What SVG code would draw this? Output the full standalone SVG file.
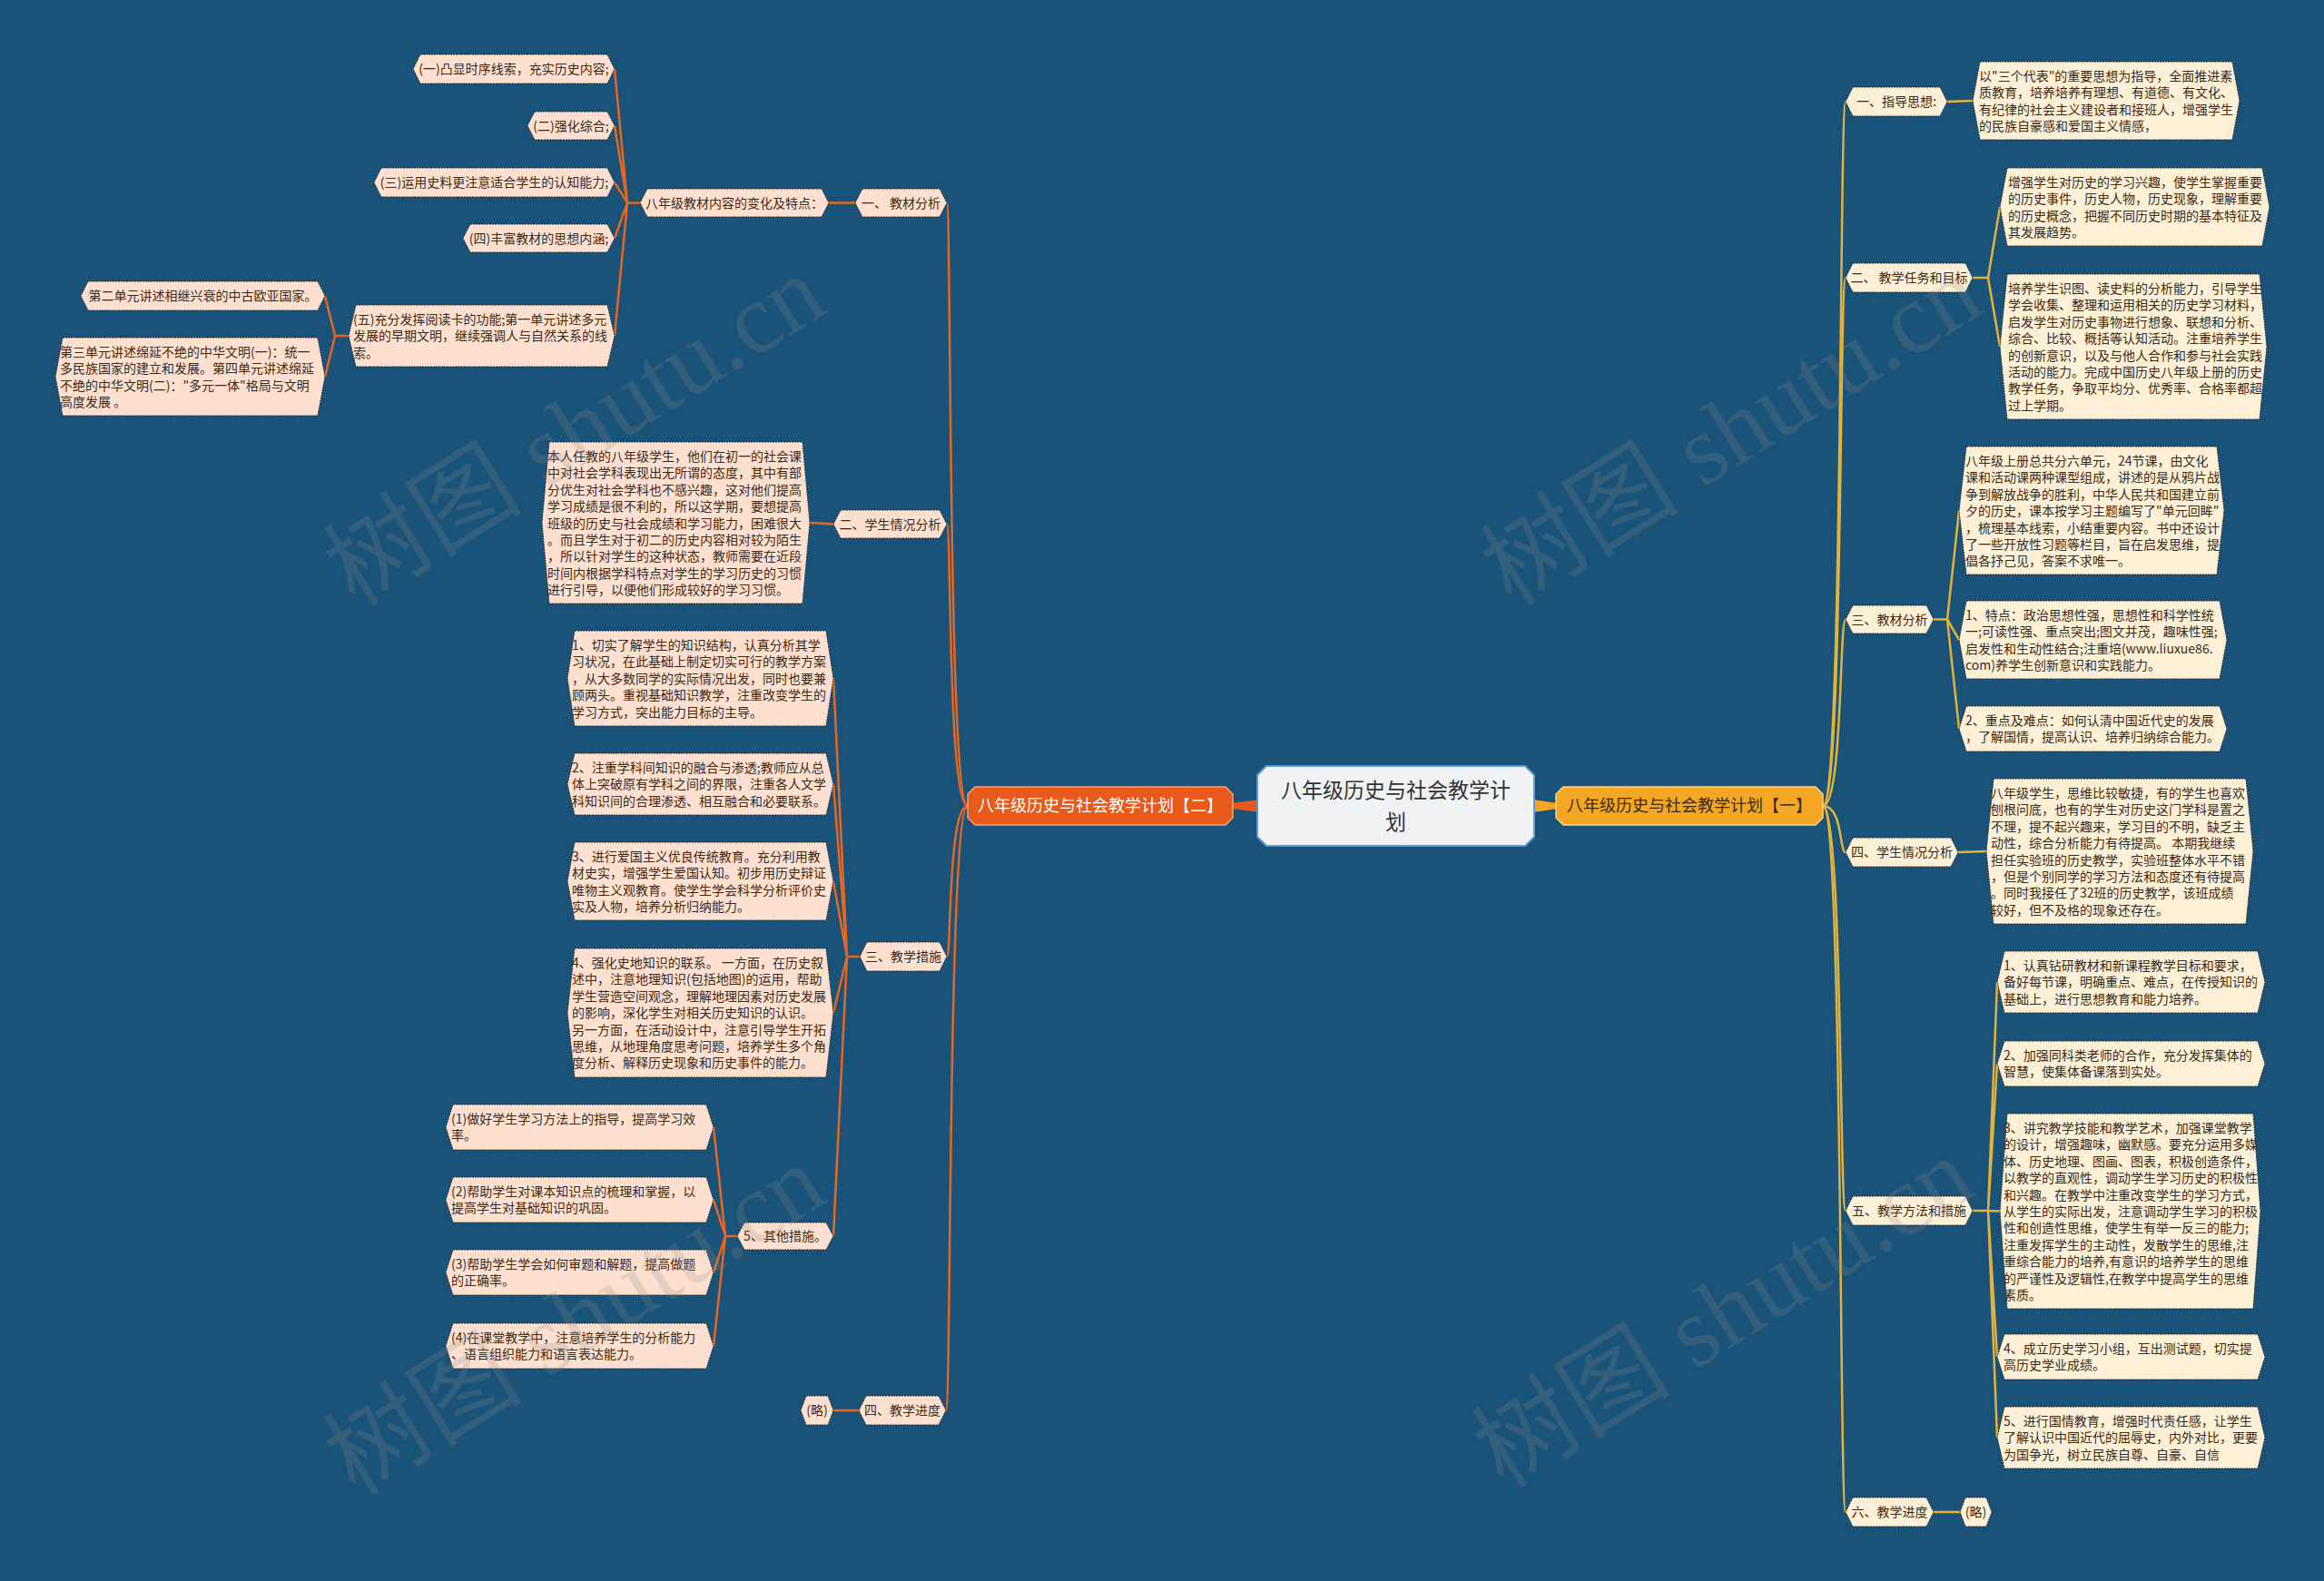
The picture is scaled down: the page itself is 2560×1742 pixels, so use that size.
<svg xmlns="http://www.w3.org/2000/svg" width="2560" height="1742" viewBox="0 0 2560 1742">
<style>
.t{font-family:"Noto Sans CJK SC","Liberation Sans",sans-serif;font-size:14px;fill:#3b2a18}
.c{text-anchor:middle}
.hr{fill:#fdf0d6;stroke:#2b2b2b;stroke-width:1;stroke-dasharray:2 1}
.hl{fill:#fde0d0;stroke:#2b2b2b;stroke-width:1;stroke-dasharray:2 1}
.cr{fill:none;stroke:#e2b23a;stroke-width:2.5}
.cl{fill:none;stroke:#e8661f;stroke-width:2.5}
.wm{font-family:"Liberation Serif","Noto Sans CJK SC",serif;font-size:110px;fill:#8c8c8c;fill-opacity:0.22;text-anchor:middle}
</style>
<rect width="2560" height="1742" fill="#1a5379"/>

<g id="connectors">
<polygon points="1388,881 1388,895 1356,891 1356,885" fill="#e8591a"/>
<polygon points="1688,881 1688,895 1716,891 1716,885" fill="#f5a623"/>
<path class="cr" d="M2008 888 C2030 888 2026 112 2033 112"/>
<path class="cr" d="M2008 888 C2030 888 2026 306 2033 306"/>
<path class="cr" d="M2008 888 C2030 888 2026 682.5 2033 682.5"/>
<path class="cr" d="M2008 888 C2030 888 2026 939 2033 939"/>
<path class="cr" d="M2008 888 C2030 888 2026 1334 2033 1334"/>
<path class="cr" d="M2008 888 C2030 888 2026 1666 2033 1666"/>
<path class="cr" d="M2145 112 L2173 111"/>
<path class="cr" d="M2173 306 L2190 306 L2203 228 M2190 306 L2203 382"/>
<path class="cr" d="M2130 682.5 L2145 682.5 L2158 562.5 M2145 682.5 L2158 705 M2145 682.5 L2158 803"/>
<path class="cr" d="M2157 939 L2188 938"/>
<path class="cr" d="M2173 1334 L2190 1334 L2200 1082 M2190 1334 L2200 1172 M2190 1334 L2203 1334.5 M2190 1334 L2200 1495 M2190 1334 L2200 1584"/>
<path class="cr" d="M2130 1666 L2159 1666"/>
<path class="cl" d="M1066 888 C1044 888 1048 223.5 1043 223.5"/>
<path class="cl" d="M1066 888 C1044 888 1048 577.5 1043 577.5"/>
<path class="cl" d="M1066 888 C1044 888 1048 1054 1043 1054"/>
<path class="cl" d="M1066 888 C1044 888 1048 1554 1042 1554"/>
<path class="cl" d="M942 223.5 L913 223.5"/>
<path class="cl" d="M705 223.5 L691 223.5 L677 76 M691 223.5 L677 138.5 M691 223.5 L677 201 M691 223.5 L677 262.5 M691 223.5 L677 370"/>
<path class="cl" d="M384 370 L369 370 L358 326 M369 370 L358 415"/>
<path class="cl" d="M918 577.5 L892 576"/>
<path class="cl" d="M947 1054 L933 1054 L918 747.5 M933 1054 L918 864 M933 1054 L918 971 M933 1054 L918 1116 M933 1054 L918 1362"/>
<path class="cl" d="M812 1362 L799 1362 L786 1242 M799 1362 L786 1322 M799 1362 L786 1402 M799 1362 L786 1483"/>
<path class="cl" d="M946 1554 L918 1554"/>
</g>

<g id="center">
<polygon points="1395,844 1680,844 1690,854 1690,922 1680,932 1395,932 1385,922 1385,854" fill="#f1f2f4" stroke="#5b9bd5" stroke-width="2"/>
<text class="t c" x="1537.5" y="879" style="font-size:23px;fill:#333">八年级历史与社会教学计</text>
<text class="t c" x="1537.5" y="914" style="font-size:23px;fill:#333">划</text>
</g>

<g id="main-left">
<polygon points="1074,867 1350,867 1358,875 1358,901 1350,909 1074,909 1066,901 1066,875" fill="#e8591a" stroke="#f3a27a" stroke-width="1.5"/>
<text class="t c" x="1212" y="894" style="font-size:18px;fill:#ffffff">八年级历史与社会教学计划【二】</text>
</g>
<g id="main-right">
<polygon points="1722,867 2000,867 2008,875 2008,901 2000,909 1722,909 1714,901 1714,875" fill="#f5a623" stroke="#fbd48a" stroke-width="1.5"/>
<text class="t c" x="1861" y="894" style="font-size:18px;fill:#3a2a10">八年级历史与社会教学计划【一】</text>
</g>

<g id="r1">
<polygon class="hr" points="2041,96 2137,96 2145,112 2137,128 2041,128 2033,112"/>
<text class="t c" x="2089" y="117">一、指导思想:</text>
</g>
<g id="r1c">
<polygon class="hr" points="2181,68 2459,68 2467,111 2459,154 2181,154 2173,111"/>
<text class="t" x="2180" y="89"><tspan x="2180">以"三个代表"的重要思想为指导，全面推进素</tspan><tspan x="2180" dy="18.4">质教育，培养培养有理想、有道德、有文化、</tspan><tspan x="2180" dy="18.4">有纪律的社会主义建设者和接班人，增强学生</tspan><tspan x="2180" dy="18.4">的民族自豪感和爱国主义情感，</tspan></text>
</g>
<g id="r2">
<polygon class="hr" points="2041,290 2165,290 2173,306 2165,322 2041,322 2033,306"/>
<text class="t c" x="2103" y="311">二、 教学任务和目标</text>
</g>
<g id="r2c1">
<polygon class="hr" points="2211,185 2492,185 2500,228 2492,271 2211,271 2203,228"/>
<text class="t" x="2212" y="206"><tspan x="2212">增强学生对历史的学习兴趣，使学生掌握重要</tspan><tspan x="2212" dy="18.4">的历史事件，历史人物，历史现象，理解重要</tspan><tspan x="2212" dy="18.4">的历史概念，把握不同历史时期的基本特征及</tspan><tspan x="2212" dy="18.4">其发展趋势。</tspan></text>
</g>
<g id="r2c2">
<polygon class="hr" points="2211,302 2489,302 2497,382 2489,462 2211,462 2203,382"/>
<text class="t" x="2212" y="323"><tspan x="2212">培养学生识图、读史料的分析能力，引导学生</tspan><tspan x="2212" dy="18.4">学会收集、整理和运用相关的历史学习材料，</tspan><tspan x="2212" dy="18.4">启发学生对历史事物进行想象、联想和分析、</tspan><tspan x="2212" dy="18.4">综合、比较、概括等认知活动。注重培养学生</tspan><tspan x="2212" dy="18.4">的创新意识，以及与他人合作和参与社会实践</tspan><tspan x="2212" dy="18.4">活动的能力。完成中国历史八年级上册的历史</tspan><tspan x="2212" dy="18.4">教学任务，争取平均分、优秀率、合格率都超</tspan><tspan x="2212" dy="18.4">过上学期。</tspan></text>
</g>
<g id="r3">
<polygon class="hr" points="2041,667 2122,667 2130,682.5 2122,698 2041,698 2033,682.5"/>
<text class="t c" x="2081.5" y="687.5">三、教材分析</text>
</g>
<g id="r3c1">
<polygon class="hr" points="2166,492 2442,492 2450,562.5 2442,633 2166,633 2158,562.5"/>
<text class="t" x="2165" y="513"><tspan x="2165">八年级上册总共分六单元，24节课，由文化</tspan><tspan x="2165" dy="18.4">课和活动课两种课型组成，讲述的是从鸦片战</tspan><tspan x="2165" dy="18.4">争到解放战争的胜利，中华人民共和国建立前</tspan><tspan x="2165" dy="18.4">夕的历史，课本按学习主题编写了"单元回眸"</tspan><tspan x="2165" dy="18.4">，梳理基本线索，小结重要内容。书中还设计</tspan><tspan x="2165" dy="18.4">了一些开放性习题等栏目，旨在启发思维，提</tspan><tspan x="2165" dy="18.4">倡各抒己见，答案不求唯一。</tspan></text>
</g>
<g id="r3c2">
<polygon class="hr" points="2166,662 2445,662 2453,705 2445,748 2166,748 2158,705"/>
<text class="t" x="2165" y="683"><tspan x="2165">1、特点：政治思想性强，思想性和科学性统</tspan><tspan x="2165" dy="18.4">一;可读性强、重点突出;图文并茂，趣味性强;</tspan><tspan x="2165" dy="18.4">启发性和生动性结合;注重培(www.liuxue86.</tspan><tspan x="2165" dy="18.4">com)养学生创新意识和实践能力。</tspan></text>
</g>
<g id="r3c3">
<polygon class="hr" points="2166,778 2445,778 2453,803 2445,828 2166,828 2158,803"/>
<text class="t" x="2165" y="799"><tspan x="2165">2、重点及难点：如何认清中国近代史的发展</tspan><tspan x="2165" dy="18.4">，了解国情，提高认识、培养归纳综合能力。</tspan></text>
</g>
<g id="r4">
<polygon class="hr" points="2041,923 2149,923 2157,939 2149,955 2041,955 2033,939"/>
<text class="t c" x="2095" y="944">四、学生情况分析</text>
</g>
<g id="r4c">
<polygon class="hr" points="2196,858 2474,858 2482,938 2474,1018 2196,1018 2188,938"/>
<text class="t" x="2193" y="879"><tspan x="2193">八年级学生，思维比较敏捷，有的学生也喜欢</tspan><tspan x="2193" dy="18.4">刨根问底，也有的学生对历史这门学科是置之</tspan><tspan x="2193" dy="18.4">不理，提不起兴趣来，学习目的不明，缺乏主</tspan><tspan x="2193" dy="18.4">动性，综合分析能力有待提高。 本期我继续</tspan><tspan x="2193" dy="18.4">担任实验班的历史教学，实验班整体水平不错</tspan><tspan x="2193" dy="18.4">，但是个别同学的学习方法和态度还有待提高</tspan><tspan x="2193" dy="18.4">。同时我接任了32班的历史教学，该班成绩</tspan><tspan x="2193" dy="18.4">较好，但不及格的现象还存在。</tspan></text>
</g>
<g id="r5">
<polygon class="hr" points="2041,1318 2165,1318 2173,1334 2165,1350 2041,1350 2033,1334"/>
<text class="t c" x="2103" y="1339">五、教学方法和措施</text>
</g>
<g id="r5c1">
<polygon class="hr" points="2208,1048 2487,1048 2495,1082 2487,1116 2208,1116 2200,1082"/>
<text class="t" x="2207" y="1069"><tspan x="2207">1、认真钻研教材和新课程教学目标和要求，</tspan><tspan x="2207" dy="18.4">备好每节课，明确重点、难点，在传授知识的</tspan><tspan x="2207" dy="18.4">基础上，进行思想教育和能力培养。</tspan></text>
</g>
<g id="r5c2">
<polygon class="hr" points="2208,1147 2487,1147 2495,1172 2487,1197 2208,1197 2200,1172"/>
<text class="t" x="2207" y="1168"><tspan x="2207">2、加强同科类老师的合作，充分发挥集体的</tspan><tspan x="2207" dy="18.4">智慧，使集体备课落到实处。</tspan></text>
</g>
<g id="r5c3">
<polygon class="hr" points="2211,1227 2482,1227 2490,1334.5 2482,1442 2211,1442 2203,1334.5"/>
<text class="t" x="2207" y="1248"><tspan x="2207">3、讲究教学技能和教学艺术，加强课堂教学</tspan><tspan x="2207" dy="18.4">的设计，增强趣味，幽默感。要充分运用多媒</tspan><tspan x="2207" dy="18.4">体、历史地理、图画、图表，积极创造条件，</tspan><tspan x="2207" dy="18.4">以教学的直观性，调动学生学习历史的积极性</tspan><tspan x="2207" dy="18.4">和兴趣。在教学中注重改变学生的学习方式，</tspan><tspan x="2207" dy="18.4">从学生的实际出发，注意调动学生学习的积极</tspan><tspan x="2207" dy="18.4">性和创造性思维，使学生有举一反三的能力;</tspan><tspan x="2207" dy="18.4">注重发挥学生的主动性，发散学生的思维,注</tspan><tspan x="2207" dy="18.4">重综合能力的培养,有意识的培养学生的思维</tspan><tspan x="2207" dy="18.4">的严谨性及逻辑性,在教学中提高学生的思维</tspan><tspan x="2207" dy="18.4">素质。</tspan></text>
</g>
<g id="r5c4">
<polygon class="hr" points="2208,1470 2487,1470 2495,1495 2487,1520 2208,1520 2200,1495"/>
<text class="t" x="2207" y="1491"><tspan x="2207">4、成立历史学习小组，互出测试题，切实提</tspan><tspan x="2207" dy="18.4">高历史学业成绩。</tspan></text>
</g>
<g id="r5c5">
<polygon class="hr" points="2208,1550 2487,1550 2495,1584 2487,1618 2208,1618 2200,1584"/>
<text class="t" x="2207" y="1571"><tspan x="2207">5、进行国情教育，增强时代责任感，让学生</tspan><tspan x="2207" dy="18.4">了解认识中国近代的屈辱史，内外对比，更要</tspan><tspan x="2207" dy="18.4">为国争光，树立民族自尊、自豪、自信</tspan></text>
</g>
<g id="r6">
<polygon class="hr" points="2041,1650 2122,1650 2130,1666 2122,1682 2041,1682 2033,1666"/>
<text class="t c" x="2081.5" y="1671">六、教学进度</text>
</g>
<g id="r6c">
<polygon class="hr" points="2165,1650 2188,1650 2194,1666 2188,1682 2165,1682 2159,1666"/>
<text class="t c" x="2176.5" y="1671">(略)</text>
</g>

<g id="l1">
<polygon class="hl" points="950,208 1035,208 1043,223.5 1035,239 950,239 942,223.5"/>
<text class="t c" x="992.5" y="228.5">一、 教材分析</text>
</g>
<g id="l1a">
<polygon class="hl" points="713,208 905,208 913,223.5 905,239 713,239 705,223.5"/>
<text class="t c" x="809" y="228.5">八年级教材内容的变化及特点：</text>
</g>
<g id="l1a1">
<polygon class="hl" points="463,60 669,60 677,76 669,92 463,92 455,76"/>
<text class="t c" x="566" y="81">(一)凸显时序线索，充实历史内容;</text>
</g>
<g id="l1a2">
<polygon class="hl" points="589,123 669,123 677,138.5 669,154 589,154 581,138.5"/>
<text class="t c" x="629" y="143.5">(二)强化综合;</text>
</g>
<g id="l1a3">
<polygon class="hl" points="420,185 669,185 677,201 669,217 420,217 412,201"/>
<text class="t c" x="544.5" y="206">(三)运用史料更注意适合学生的认知能力;</text>
</g>
<g id="l1a4">
<polygon class="hl" points="518,247 669,247 677,262.5 669,278 518,278 510,262.5"/>
<text class="t c" x="593.5" y="267.5">(四)丰富教材的思想内涵;</text>
</g>
<g id="l1a5">
<polygon class="hl" points="392,336 669,336 677,370 669,404 392,404 384,370"/>
<text class="t" x="389" y="357"><tspan x="389">(五)充分发挥阅读卡的功能;第一单元讲述多元</tspan><tspan x="389" dy="18.4">发展的早期文明，继续强调人与自然关系的线</tspan><tspan x="389" dy="18.4">索。</tspan></text>
</g>
<g id="l1a5a">
<polygon class="hl" points="97,310 350,310 358,326 350,342 97,342 89,326"/>
<text class="t c" x="223.5" y="331">第二单元讲述相继兴衰的中古欧亚国家。</text>
</g>
<g id="l1a5b">
<polygon class="hl" points="69,372 350,372 358,415 350,458 69,458 61,415"/>
<text class="t" x="66" y="393"><tspan x="66">第三单元讲述绵延不绝的中华文明(一)：统一</tspan><tspan x="66" dy="18.4">多民族国家的建立和发展。第四单元讲述绵延</tspan><tspan x="66" dy="18.4">不绝的中华文明(二)："多元一体"格局与文明</tspan><tspan x="66" dy="18.4">高度发展 。</tspan></text>
</g>
<g id="l2">
<polygon class="hl" points="926,562 1035,562 1043,577.5 1035,593 926,593 918,577.5"/>
<text class="t c" x="980.5" y="582.5">二、学生情况分析</text>
</g>
<g id="l2c">
<polygon class="hl" points="605,487 884,487 892,576 884,665 605,665 597,576"/>
<text class="t" x="603" y="508"><tspan x="603">本人任教的八年级学生，他们在初一的社会课</tspan><tspan x="603" dy="18.4">中对社会学科表现出无所谓的态度，其中有部</tspan><tspan x="603" dy="18.4">分优生对社会学科也不感兴趣，这对他们提高</tspan><tspan x="603" dy="18.4">学习成绩是很不利的，所以这学期，要想提高</tspan><tspan x="603" dy="18.4">班级的历史与社会成绩和学习能力，困难很大</tspan><tspan x="603" dy="18.4">。而且学生对于初二的历史内容相对较为陌生</tspan><tspan x="603" dy="18.4">，所以针对学生的这种状态，教师需要在近段</tspan><tspan x="603" dy="18.4">时间内根据学科特点对学生的学习历史的习惯</tspan><tspan x="603" dy="18.4">进行引导，以便他们形成较好的学习习惯。</tspan></text>
</g>
<g id="l3">
<polygon class="hl" points="955,1038 1035,1038 1043,1054 1035,1070 955,1070 947,1054"/>
<text class="t c" x="995" y="1059">三、教学措施</text>
</g>
<g id="l3c1">
<polygon class="hl" points="633,695 910,695 918,747.5 910,800 633,800 625,747.5"/>
<text class="t" x="630" y="716"><tspan x="630">1、切实了解学生的知识结构，认真分析其学</tspan><tspan x="630" dy="18.4">习状况，在此基础上制定切实可行的教学方案</tspan><tspan x="630" dy="18.4">，从大多数同学的实际情况出发，同时也要兼</tspan><tspan x="630" dy="18.4">顾两头。重视基础知识教学，注重改变学生的</tspan><tspan x="630" dy="18.4">学习方式，突出能力目标的主导。</tspan></text>
</g>
<g id="l3c2">
<polygon class="hl" points="633,830 910,830 918,864 910,898 633,898 625,864"/>
<text class="t" x="630" y="851"><tspan x="630">2、注重学科间知识的融合与渗透;教师应从总</tspan><tspan x="630" dy="18.4">体上突破原有学科之间的界限，注重各人文学</tspan><tspan x="630" dy="18.4">科知识间的合理渗透、相互融合和必要联系。</tspan></text>
</g>
<g id="l3c3">
<polygon class="hl" points="633,928 910,928 918,971 910,1014 633,1014 625,971"/>
<text class="t" x="630" y="949"><tspan x="630">3、进行爱国主义优良传统教育。充分利用教</tspan><tspan x="630" dy="18.4">材史实，增强学生爱国认知。初步用历史辩证</tspan><tspan x="630" dy="18.4">唯物主义观教育。使学生学会科学分析评价史</tspan><tspan x="630" dy="18.4">实及人物，培养分析归纳能力。</tspan></text>
</g>
<g id="l3c4">
<polygon class="hl" points="633,1045 910,1045 918,1116 910,1187 633,1187 625,1116"/>
<text class="t" x="630" y="1066"><tspan x="630">4、强化史地知识的联系。 一方面，在历史叙</tspan><tspan x="630" dy="18.4">述中，注意地理知识(包括地图)的运用，帮助</tspan><tspan x="630" dy="18.4">学生营造空间观念，理解地理因素对历史发展</tspan><tspan x="630" dy="18.4">的影响，深化学生对相关历史知识的认识。</tspan><tspan x="630" dy="18.4">另一方面，在活动设计中，注意引导学生开拓</tspan><tspan x="630" dy="18.4">思维，从地理角度思考问题，培养学生多个角</tspan><tspan x="630" dy="18.4">度分析、解释历史现象和历史事件的能力。</tspan></text>
</g>
<g id="l3c5">
<polygon class="hl" points="820,1347 910,1347 918,1362 910,1377 820,1377 812,1362"/>
<text class="t c" x="865" y="1367">5、其他措施。</text>
</g>
<g id="l3c5a">
<polygon class="hl" points="499,1217 778,1217 786,1242 778,1267 499,1267 491,1242"/>
<text class="t" x="497" y="1238"><tspan x="497">(1)做好学生学习方法上的指导，提高学习效</tspan><tspan x="497" dy="18.4">率。</tspan></text>
</g>
<g id="l3c5b">
<polygon class="hl" points="499,1297 778,1297 786,1322 778,1347 499,1347 491,1322"/>
<text class="t" x="497" y="1318"><tspan x="497">(2)帮助学生对课本知识点的梳理和掌握，以</tspan><tspan x="497" dy="18.4">提高学生对基础知识的巩固。</tspan></text>
</g>
<g id="l3c5c">
<polygon class="hl" points="499,1377 778,1377 786,1402 778,1427 499,1427 491,1402"/>
<text class="t" x="497" y="1398"><tspan x="497">(3)帮助学生学会如何审题和解题，提高做题</tspan><tspan x="497" dy="18.4">的正确率。</tspan></text>
</g>
<g id="l3c5d">
<polygon class="hl" points="499,1458 778,1458 786,1483 778,1508 499,1508 491,1483"/>
<text class="t" x="497" y="1479"><tspan x="497">(4)在课堂教学中，注意培养学生的分析能力</tspan><tspan x="497" dy="18.4">、语言组织能力和语言表达能力。</tspan></text>
</g>
<g id="l4">
<polygon class="hl" points="954,1538 1034,1538 1042,1554 1034,1570 954,1570 946,1554"/>
<text class="t c" x="994" y="1559">四、教学进度</text>
</g>
<g id="l4c">
<polygon class="hl" points="888,1538 912,1538 918,1554 912,1570 888,1570 882,1554"/>
<text class="t c" x="900" y="1559">(略)</text>
</g>

<g id="watermarks">
<text class="wm" transform="translate(653,506) rotate(-32)">树图 shutu.cn</text>
<text class="wm" transform="translate(1927,506) rotate(-32)">树图 shutu.cn</text>
<text class="wm" transform="translate(653,1486) rotate(-32)">树图 shutu.cn</text>
<text class="wm" transform="translate(1918,1478) rotate(-32)">树图 shutu.cn</text>
</g>
</svg>
